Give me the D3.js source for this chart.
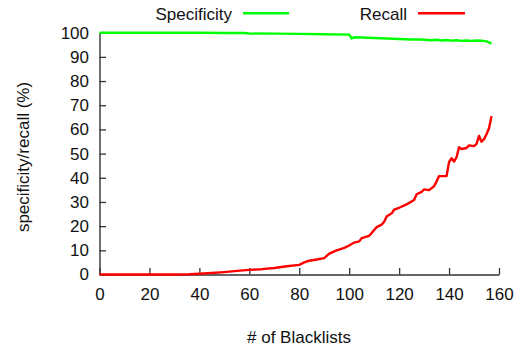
<!DOCTYPE html>
<html>
<head>
<meta charset="utf-8">
<script src="https://cdn.jsdelivr.net/npm/d3@7"></script>
<style>
  html, body { margin: 0; padding: 0; background: #fff; }
  svg { display: block; font-family: "Liberation Sans", Arial, Helvetica, sans-serif; }
</style>
</head>
<body>
<svg id="chart" width="522" height="349"></svg>
<script>
// Specificity and recall as a function of the number of blacklists used
const specX = [0, 10, 20, 30, 40, 50, 58, 60, 70, 80, 90, 100, 101, 102, 105, 110, 115, 120, 125, 128, 130, 133, 135, 137, 139, 141, 143, 145, 147, 149, 151, 153, 155, 156, 157];
const specificity = [100, 100, 100, 100, 99.95, 99.9, 99.85, 99.65, 99.6, 99.5, 99.35, 99.2, 97.6, 98.1, 98.0, 97.8, 97.6, 97.4, 97.2, 97.25, 97.1, 96.9, 97.1, 96.8, 97.0, 96.7, 96.9, 96.6, 96.8, 96.6, 96.8, 96.7, 96.4, 96.0, 95.5];

const recallX = [0, 10, 20, 30, 36, 40, 45, 50, 55, 60, 65, 70, 75, 80, 82, 84, 87, 90, 92, 95, 98, 100, 102, 104, 105, 108, 109, 111, 113, 114, 115, 117, 118, 120, 123, 126, 127, 129, 130, 132, 134, 135, 136, 139, 140, 141, 142, 143, 144, 145, 147, 148, 150, 151, 152, 153, 154, 155, 156, 157];
const recall = [0, 0, 0, 0, 0.1, 0.3, 0.6, 1.0, 1.5, 1.9, 2.2, 2.7, 3.4, 4.0, 5.0, 5.7, 6.2, 6.8, 8.6, 10.0, 11.0, 12.0, 13.2, 13.7, 15.0, 16.0, 17.2, 19.6, 20.6, 21.8, 24.0, 25.3, 26.8, 27.6, 29.0, 30.8, 33.2, 34.2, 35.2, 34.9, 36.5, 38.5, 40.7, 40.7, 46.5, 48.1, 46.7, 48.5, 52.6, 51.9, 52.3, 53.4, 53.1, 54.0, 57.3, 54.9, 56.0, 58.0, 60.5, 65.5];

const xTicks = [0, 20, 40, 60, 80, 100, 120, 140, 160];
const yTicks = [0, 10, 20, 30, 40, 50, 60, 70, 80, 90, 100];

const seriesNames = ["Specificity", "Recall"];
const seriesColors = ["#00ff00", "#ff0000"];

const svg = d3.select("#chart");
const margin = { left: 99.5, right: 23, top: 32.7, bottom: 74.5 };
const W = 522, H = 349;

const x = d3.scaleLinear().domain([0, 160]).range([margin.left, W - margin.right]);
const y = d3.scaleLinear().domain([0, 100]).range([H - margin.bottom, margin.top]);

const fontSize = 17;
const axisColor = "#333";

// axes with inward ticks
const xAxis = d3.axisBottom(x).tickValues(xTicks).tickSize(-6.5).tickPadding(13.5).tickSizeOuter(0);
const yAxis = d3.axisLeft(y).tickValues(yTicks).tickSize(-6.5).tickPadding(10.5).tickSizeOuter(0);

const gx = svg.append("g").attr("transform", `translate(0,${y(0)})`).call(xAxis);
const gy = svg.append("g").attr("transform", `translate(${x(0)},0)`).call(yAxis);

[gx, gy].forEach(g => {
  g.select(".domain").attr("stroke", axisColor).attr("stroke-width", 1.4);
  g.selectAll(".tick line").attr("stroke", axisColor).attr("stroke-width", 1.3);
  g.selectAll(".tick text")
    .attr("fill", "#111")
    .style("font-size", fontSize + "px")
    .style("font-family", "'Liberation Sans', Arial, sans-serif");
});

// axis titles
svg.append("text")
  .attr("x", 299)
  .attr("y", 343)
  .attr("text-anchor", "middle")
  .attr("fill", "#111")
  .style("font-size", fontSize + "px")
  .text("# of Blacklists");

svg.append("text")
  .attr("transform", `translate(28.5,157) rotate(-90)`)
  .attr("text-anchor", "middle")
  .attr("fill", "#111")
  .style("font-size", fontSize + "px")
  .text("specificity/recall (%)");

// series lines
const line = d3.line().x(d => x(d[0])).y(d => y(d[1]));

const specData = specX.map((v, i) => [v, specificity[i]]);
const recallData = recallX.map((v, i) => [v, recall[i]]);

svg.append("path")
  .datum(specData)
  .attr("fill", "none")
  .attr("stroke", seriesColors[0])
  .attr("stroke-width", 2.4)
  .attr("stroke-linejoin", "round")
  .attr("d", line);

svg.append("path")
  .datum(recallData)
  .attr("fill", "none")
  .attr("stroke", seriesColors[1])
  .attr("stroke-width", 2.4)
  .attr("stroke-linejoin", "round")
  .attr("d", line);

// legend: text right-aligned before a short line sample
const legendItems = [
  { name: seriesNames[0], color: seriesColors[0], textEnd: 232, lineX0: 243, lineX1: 289 },
  { name: seriesNames[1], color: seriesColors[1], textEnd: 407, lineX0: 418, lineX1: 465 }
];
const legend = svg.append("g");
legendItems.forEach(item => {
  legend.append("text")
    .attr("x", item.textEnd)
    .attr("y", 19.5)
    .attr("text-anchor", "end")
    .attr("fill", "#111")
    .style("font-size", fontSize + "px")
    .text(item.name);
  legend.append("line")
    .attr("x1", item.lineX0).attr("x2", item.lineX1)
    .attr("y1", 13.3).attr("y2", 13.3)
    .attr("stroke", item.color)
    .attr("stroke-width", 2.4);
});
</script>
</body>
</html>
